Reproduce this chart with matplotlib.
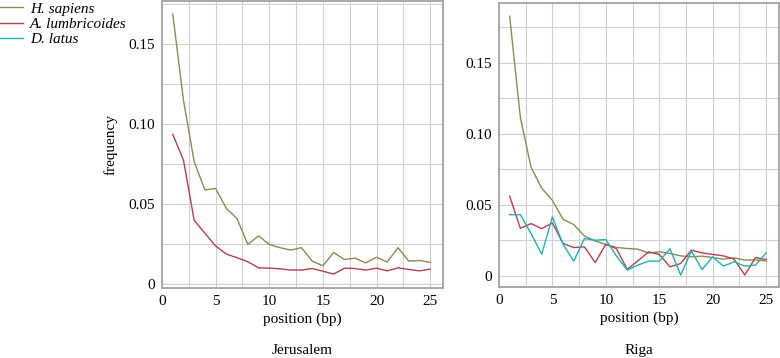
import numpy as np
import matplotlib
matplotlib.use("Agg")
import matplotlib.pyplot as plt
from matplotlib.ticker import MultipleLocator, FixedLocator

plt.rcParams['font.family'] = ['Liberation Serif', 'DejaVu Serif']

positions = np.arange(1, 26)

# Jerusalem
jer_sapiens = [0.169, 0.115, 0.0767, 0.059, 0.060, 0.0475, 0.041, 0.025, 0.0304, 0.025,
               0.023, 0.0215, 0.023, 0.0146, 0.0117, 0.020, 0.0156, 0.0165, 0.0135, 0.017,
               0.014, 0.023, 0.0146, 0.015, 0.0138]
jer_lumbricoides = [0.0938, 0.0777, 0.040, 0.032, 0.024, 0.019, 0.0167, 0.0142, 0.0104, 0.0102,
                    0.0098, 0.009, 0.009, 0.010, 0.0083, 0.0065, 0.0102, 0.010, 0.009, 0.0102,
                    0.0085, 0.0104, 0.0094, 0.0085, 0.0096]

# Riga
riga_sapiens = [0.1827, 0.1115, 0.0764, 0.0617, 0.053, 0.0397, 0.036, 0.028, 0.0245, 0.022,
                0.0199, 0.0192, 0.0187, 0.016, 0.0168, 0.0157, 0.014, 0.0133, 0.0138, 0.0128,
                0.0117, 0.0126, 0.011, 0.0112, 0.0103]
riga_lumbricoides = [0.056, 0.0334, 0.0367, 0.0332, 0.0371, 0.0227, 0.0199, 0.0203, 0.0093, 0.0222,
                     0.019, 0.0044, 0.0105, 0.0168, 0.015, 0.0063, 0.0086, 0.018, 0.0161, 0.015,
                     0.014, 0.0117, 0.0005, 0.0128, 0.0114]
riga_latus = [0.043, 0.043, 0.0297, 0.0152, 0.0414, 0.022, 0.0103, 0.0262, 0.025, 0.0255,
              0.0138, 0.004, 0.0075, 0.0103, 0.0103, 0.019, 0.0005, 0.0175, 0.0044, 0.0133,
              0.0068, 0.0098, 0.0068, 0.0075, 0.0161]

species = ["H. sapiens", "A. lumbricoides", "D. latus"]
colors = {"H. sapiens": "#8e8a52", "A. lumbricoides": "#b3424a", "D. latus": "#1fb2b5"}

fs = 11

fig = plt.figure(figsize=(7.8, 3.58), dpi=100)
ax1 = fig.add_axes([0.2077, 0.1955, 0.3603, 0.8015])
ax2 = fig.add_axes([0.6397, 0.198, 0.359, 0.7936])


def style_axes(ax, ylim):
    ax.set_xlim(0, 26.2)
    ax.set_ylim(*ylim)
    ax.xaxis.set_major_locator(FixedLocator([0, 5, 10, 15, 20, 25]))
    ax.xaxis.set_minor_locator(MultipleLocator(2.5))
    ax.yaxis.set_major_locator(FixedLocator([0, 0.05, 0.10, 0.15]))
    ax.yaxis.set_minor_locator(MultipleLocator(0.025))
    ax.set_yticklabels(["0", "0.05", "0.10", "0.15"])
    ax.grid(True, which="both", color="#d0d0d0", linewidth=0.8)
    ax.set_axisbelow(True)
    ax.tick_params(which="both", length=0, labelsize=fs, pad=5)
    for s in ax.spines.values():
        s.set_color("#a8a8a8")
        s.set_linewidth(1.4)
    ax.set_xlabel("position (bp)", fontsize=fs, labelpad=3)


ax1.plot(positions, jer_sapiens, color=colors["H. sapiens"], lw=1)
ax1.plot(positions, jer_lumbricoides, color=colors["A. lumbricoides"], lw=1)
style_axes(ax1, (-0.0022, 0.177))
ax1.set_ylabel("frequency", fontsize=fs, labelpad=8)

ax2.plot(positions, riga_sapiens, color=colors["H. sapiens"], lw=1)
ax2.plot(positions, riga_lumbricoides, color=colors["A. lumbricoides"], lw=1)
ax2.plot(positions, riga_latus, color=colors["D. latus"], lw=1)
style_axes(ax2, (-0.008, 0.192))

fig.text((162 + 443) / 2 / 780, 0.022, "Jerusalem", ha="center", va="center", fontsize=fs)
fig.text((499 + 779) / 2 / 780, 0.022, "Riga", ha="center", va="center", fontsize=fs)

handles = [plt.Line2D([], [], color=colors[s], lw=1) for s in species]
fig.legend(handles, species, loc="upper left", bbox_to_anchor=(0.0, 0.994),
           frameon=False, borderpad=0, borderaxespad=0, handlelength=1.5,
           handletextpad=0.45, labelspacing=0.1,
           prop={"style": "italic", "size": fs})

fig.savefig("out.png", dpi=100)
